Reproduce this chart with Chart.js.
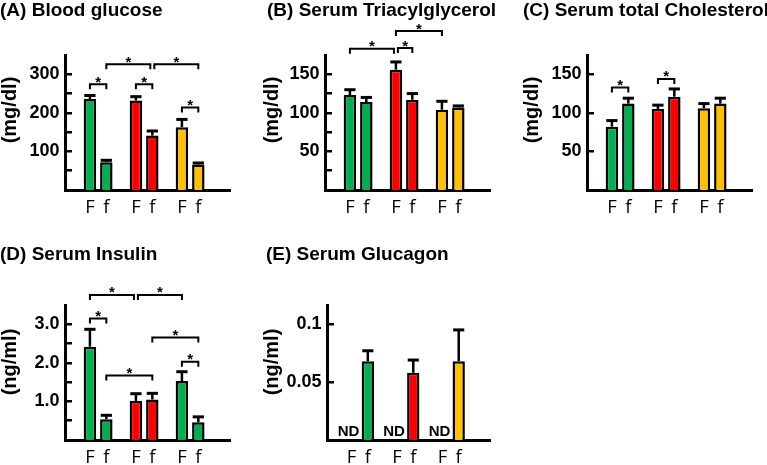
<!DOCTYPE html>
<html>
<head>
<meta charset="utf-8">
<script src="https://cdn.jsdelivr.net/npm/chart.js@4.4.1/dist/chart.umd.min.js"></script>
<style>
html, body { margin: 0; padding: 0; background: #fff; }
#fig { position: relative; width: 767px; height: 465px; overflow: hidden; }
#fig canvas { position: absolute; }
</style>
</head>
<body>
<div id="fig">
  <canvas id="cA" width="250" height="230" style="left:0px;top:0px"></canvas>
  <canvas id="cB" width="260" height="230" style="left:250px;top:0px"></canvas>
  <canvas id="cC" width="257" height="230" style="left:510px;top:0px"></canvas>
  <canvas id="cD" width="250" height="235" style="left:0px;top:230px"></canvas>
  <canvas id="cE" width="260" height="235" style="left:250px;top:230px"></canvas>
</div>
<script>
// three diet groups, each measured as F and f
const GROUPS = [1, 2, 3];
const PAIR = ['F', 'f'];
const GREEN = '#00B050', RED = '#FF0000', YELLOW = '#FFC000';

// (A) Blood glucose, mg/dl
const glucoseF = [236, 232, 163];
const glucoseFErr = [9, 10, 20];
const glucosef = [72, 141, 66];
const glucosefErr = [5, 12, 4];
const glucoseTicks = [50, 100, 150, 200, 250, 300];
const glucoseTickText = ['', '100', '', '200', '', '300'];
// significance brackets: [bar from, bar to, height] bars numbered 0..5 = F,f,F,f,F,f
const glucoseSig = [[0, 1, 274], [1, 3, 326], [3, 5, 326], [2, 3, 274], [4, 5, 214]];

// (B) Serum triacylglycerol, mg/dl
const tagF = [123, 156, 104];
const tagFErr = [7, 10, 11];
const tagf = [114, 117, 107];
const tagfErr = [6, 8, 2];
const tagTicks = [25, 50, 75, 100, 125, 150];
const tagTickText = ['', '50', '', '100', '', '150'];
const tagSig = [[0, 2, 183], [2, 3, 184], [2, 4, 206]];

// (C) Serum total cholesterol, mg/dl
const cholF = [82, 105, 106];
const cholFErr = [8, 5, 6];
const cholf = [112, 121, 112];
const cholfErr = [7, 10, 7];
const cholTicks = [50, 100, 150];
const cholTickText = ['50', '100', '150'];
const cholSig = [[0, 1, 133], [2, 3, 144]];

// (D) Serum insulin, ng/ml
const insF = [2.42, 1.01, 1.53];
const insFErr = [0.45, 0.19, 0.24];
const insf = [0.54, 1.05, 0.46];
const insfErr = [0.1, 0.16, 0.14];
const insTicks = [0.5, 1, 1.5, 2, 2.5, 3];
const insTickText = ['', '1.0', '', '2.0', '', '3.0'];
const insSig = [[0, 1, 3.15], [0, 2, 3.76], [2, 4, 3.76], [3, 5, 2.66], [4, 5, 2.03], [1, 3, 1.67]];

// (E) Serum glucagon, ng/ml (F not detected)
const glucF = [null, null, null];
const glucFErr = [0, 0, 0];
const glucf = [0.068, 0.058, 0.068];
const glucfErr = [0.009, 0.011, 0.027];
const glucTicks = [0.05, 0.1];
const glucTickText = ['0.05', '0.1'];

const FONT = '"Liberation Sans", Arial, sans-serif';
Chart.defaults.color = '#000';

function decor(o) {
  function bar(chart, k) {
    return chart.getDatasetMeta(k % 2).data[Math.floor(k / 2)];
  }
  return {
    id: 'decor',
    afterDatasetsDraw(chart) {
      const ctx = chart.ctx, y = chart.scales.y;
      ctx.save();
      ctx.strokeStyle = '#000';
      ctx.fillStyle = '#000';
      // error bars (upward only)
      chart.data.datasets.forEach((ds, d) => {
        chart.getDatasetMeta(d).data.forEach((el, i) => {
          if (ds.data[i] == null) return;
          const top = y.getPixelForValue(ds.data[i] + ds.err[i]);
          const half = el.width * 0.45;
          ctx.lineWidth = 2.5;
          ctx.beginPath();
          ctx.moveTo(el.x, el.y);
          ctx.lineTo(el.x, top);
          ctx.stroke();
          ctx.lineWidth = 3;
          ctx.beginPath();
          ctx.moveTo(el.x - half, top);
          ctx.lineTo(el.x + half, top);
          ctx.stroke();
        });
      });
      // significance brackets
      const sig = o.sig || [];
      sig.forEach((s, n) => {
        const py = y.getPixelForValue(s[2]);
        const shared = (k) => sig.some((t, m) => m !== n && (t[0] === k || t[1] === k) &&
          Math.abs(y.getPixelForValue(t[2]) - py) < 6);
        const x1 = bar(chart, s[0]).x + (shared(s[0]) ? 2 : 0);
        const x2 = bar(chart, s[1]).x - (shared(s[1]) ? 2 : 0);
        ctx.lineWidth = 2;
        ctx.beginPath();
        ctx.moveTo(x1, py + 5);
        ctx.lineTo(x1, py);
        ctx.lineTo(x2, py);
        ctx.lineTo(x2, py + 5);
        ctx.stroke();
        ctx.font = 'bold 15px ' + FONT;
        ctx.textAlign = 'center';
        ctx.textBaseline = 'alphabetic';
        ctx.fillText('*', (x1 + x2) / 2, py + 2.5);
      });
      ctx.restore();
    },
    afterDraw(chart) {
      const ctx = chart.ctx, area = chart.chartArea;
      ctx.save();
      ctx.fillStyle = '#000';
      ctx.textBaseline = 'alphabetic';
      ctx.textAlign = 'left';
      ctx.font = 'bold 19px ' + FONT;
      ctx.fillText(o.title, o.titleX, o.titleY);
      // y-axis title
      ctx.save();
      ctx.translate(o.ytX, o.ytY);
      ctx.rotate(-Math.PI / 2);
      ctx.textAlign = 'center';
      ctx.textBaseline = 'middle';
      ctx.font = 'bold 20px ' + FONT;
      ctx.fillText(o.yTitle, 0, 0);
      ctx.restore();
      // F / f under each bar, ND for missing values
      ctx.textAlign = 'center';
      chart.data.datasets.forEach((ds, d) => {
        chart.getDatasetMeta(d).data.forEach((el, i) => {
          ctx.font = '18.5px "Open Sans", sans-serif';
          ctx.fillText(PAIR[d], el.x, area.bottom + 23);
          if (ds.data[i] == null) {
            ctx.font = 'bold 15px ' + FONT;
            ctx.fillText('ND', el.x - 3, area.bottom - 4);
          }
        });
      });
      ctx.restore();
    }
  };
}

function panel(id, o) {
  const common = {
    borderColor: '#000', borderWidth: 2.5,
    categoryPercentage: 0.7135, barPercentage: 0.76
  };
  new Chart(document.getElementById(id), {
    type: 'bar',
    data: {
      labels: GROUPS,
      datasets: [
        Object.assign({ label: PAIR[0], data: o.F, err: o.FErr, backgroundColor: o.colors }, common),
        Object.assign({ label: PAIR[1], data: o.f, err: o.fErr, backgroundColor: o.colors }, common)
      ]
    },
    options: {
      responsive: false,
      animation: false,
      devicePixelRatio: 1,
      layout: { padding: { top: o.top, right: o.right, left: 0, bottom: 0 } },
      plugins: { legend: { display: false }, tooltip: { enabled: false } },
      scales: {
        x: {
          type: 'linear', min: 0.28, max: 3.867,
          afterBuildTicks: (s) => { s.ticks = []; },
          afterFit: (s) => { s.height = o.xh; },
          ticks: { display: false },
          grid: { display: false },
          border: { display: true, color: '#000', width: 3 }
        },
        y: {
          min: 0, max: o.max,
          afterBuildTicks: (s) => { s.ticks = o.ticks.map((v) => ({ value: v })); },
          afterFit: (s) => { s.width = o.yw; },
          ticks: {
            autoSkip: false,
            padding: 12.5,
            color: '#000',
            font: { family: FONT, size: 18, weight: 'bold' },
            callback: (v, i) => o.tickText[i]
          },
          grid: { drawOnChartArea: false, color: '#000', lineWidth: 2.5, tickLength: -7 },
          border: { display: true, color: '#000', width: 3 }
        }
      }
    },
    plugins: [decor(o)]
  });
}

panel('cA', {
  title: '(A) Blood glucose', titleX: 0, titleY: 16, yTitle: '(mg/dl)', ytX: 10.5, ytY: 110,
  F: glucoseF, FErr: glucoseFErr, f: glucosef, fErr: glucosefErr, colors: [GREEN, RED, YELLOW],
  max: 350, ticks: glucoseTicks, tickText: glucoseTickText, sig: glucoseSig,
  top: 55, right: 20, xh: 40, yw: 65
});
panel('cB', {
  title: '(B) Serum Triacylglycerol', titleX: 17, titleY: 16, yTitle: '(mg/dl)', ytX: 22, ytY: 110,
  F: tagF, FErr: tagFErr, f: tagf, fErr: tagfErr, colors: [GREEN, RED, YELLOW],
  max: 175, ticks: tagTicks, tickText: tagTickText, sig: tagSig,
  top: 55, right: 20, xh: 40, yw: 75
});
panel('cC', {
  title: '(C) Serum total Cholesterol', titleX: 13, titleY: 16, yTitle: '(mg/dl)', ytX: 22.5, ytY: 110,
  F: cholF, FErr: cholFErr, f: cholf, fErr: cholfErr, colors: [GREEN, RED, YELLOW],
  max: 175, ticks: cholTicks, tickText: cholTickText, sig: cholSig,
  top: 55, right: 15, xh: 40, yw: 77
});
panel('cD', {
  title: '(D) Serum Insulin', titleX: 0, titleY: 30, yTitle: '(ng/ml)', ytX: 10, ytY: 132,
  F: insF, FErr: insFErr, f: insf, fErr: insfErr, colors: [GREEN, RED, GREEN],
  max: 3.5, ticks: insTicks, tickText: insTickText, sig: insSig,
  top: 75, right: 20, xh: 25, yw: 65
});
panel('cE', {
  title: '(E) Serum Glucagon', titleX: 16, titleY: 30, yTitle: '(ng/ml)', ytX: 22.5, ytY: 132,
  F: glucF, FErr: glucFErr, f: glucf, fErr: glucfErr, colors: [GREEN, RED, YELLOW],
  max: 0.1165, ticks: glucTicks, tickText: glucTickText, sig: [],
  top: 75, right: 20, xh: 25, yw: 77
});
</script>
</body>
</html>
